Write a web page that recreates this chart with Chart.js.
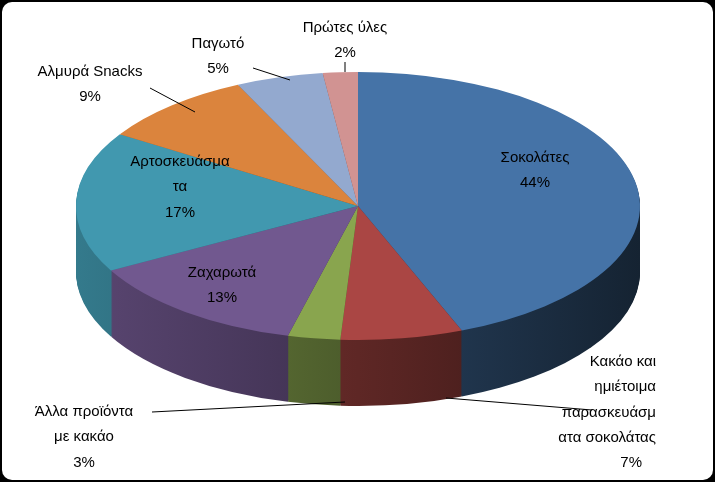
<!DOCTYPE html>
<html><head><meta charset="utf-8">
<script src="https://cdn.jsdelivr.net/npm/chart.js@4.4.0/dist/chart.umd.min.js"></script>
<style>
html,body{margin:0;padding:0;background:#000;}
#box{position:absolute;left:2px;top:2px;width:711px;height:478px;background:#fff;border-radius:10px;overflow:hidden;}
canvas{position:absolute;left:-2px;top:-2px;}
</style></head><body>
<div id="box"><canvas id="c" width="715" height="482"></canvas></div>
<script>
// Δεδομένα
const categories = ['Σοκολάτες', 'Κακάο και ημιέτοιμα παρασκευάσματα σοκολάτας', 'Άλλα προϊόντα με κακάο', 'Ζαχαρωτά', 'Αρτοσκευάσματα', 'Αλμυρά Snacks', 'Παγωτό', 'Πρώτες ύλες'];
const values = [44, 7, 3, 13, 17, 9, 5, 2];
const colors = ['#4573a7', '#aa4644', '#89a54e', '#71588f', '#4198af', '#db843d', '#93a9cf', '#d19392'];

// Ετικέτες όπως εμφανίζονται (γραμμές κειμένου), θέση, στοίχιση, γραμμή οδηγός
const labelLines = [
  ['Σοκολάτες', '44%'],
  ['Κακάο και', 'ημιέτοιμα', 'παρασκευάσμ', 'ατα σοκολάτας', '7%'],
  ['Άλλα προϊόντα', 'με κακάο', '3%'],
  ['Ζαχαρωτά', '13%'],
  ['Αρτοσκευάσμα', 'τα', '17%'],
  ['Αλμυρά Snacks', '9%'],
  ['Παγωτό', '5%'],
  ['Πρώτες ύλες', '2%']
];
const labelPos = [[535,158,'center'],[656,362,'right'],[84,412,'center'],[222,273,'center'],[180,162,'center'],[90,72,'center'],[218,44,'center'],[345,28,'center']];
const leaders = [null,[[446,398],[592,410]],[[152,412],[345,402]],null,null,[[150,88],[195,112]],[[253,68],[290,80]],[[345,62],[345,72]]];

// Geometria elleipsis στην οθόνη
const CX = 358, CY = 206, RX = 282, RY = 134, DEPTH = 66;

function shade(hex, f) {
  const n = parseInt(hex.slice(1), 16);
  const r = Math.round(((n >> 16) & 255) * f), g = Math.round(((n >> 8) & 255) * f), b = Math.round((n & 255) * f);
  return `rgb(${r},${g},${b})`;
}

function applyTransform(ctx, arc, dy) {
  const sx = RX / arc.outerRadius, sy = RY / arc.outerRadius;
  ctx.translate(CX, CY + dy);
  ctx.scale(sx, sy);
  ctx.translate(-arc.x, -arc.y);
}

const pie3d = {
  id: 'pie3d',
  beforeDatasetsDraw(chart) {
    const ctx = chart.ctx;
    const arcs = chart.getDatasetMeta(0).data;
    const a0 = arcs[0];
    for (let d = DEPTH; d > 0; d -= 1) {
      ctx.save();
      applyTransform(ctx, a0, d);
      arcs.forEach((a, i) => {
        const g = ctx.createLinearGradient(a.x - a.outerRadius, 0, a.x + a.outerRadius, 0);
        g.addColorStop(0, shade(colors[i], 0.8));
        g.addColorStop(0.5, shade(colors[i], 0.55));
        g.addColorStop(1, shade(colors[i], 0.3));
        ctx.fillStyle = g;
        ctx.beginPath();
        ctx.moveTo(a.x, a.y);
        ctx.arc(a.x, a.y, a.outerRadius, a.startAngle, a.endAngle);
        ctx.closePath();
        ctx.fill();
      });
      ctx.restore();
    }
    ctx.save();
    applyTransform(ctx, a0, 0);
  },
  afterDatasetsDraw(chart) {
    chart.ctx.restore();
  },
  afterDraw(chart) {
    const ctx = chart.ctx;
    ctx.save();
    ctx.strokeStyle = '#000';
    ctx.lineWidth = 1;
    leaders.forEach(l => {
      if (!l) return;
      ctx.beginPath();
      ctx.moveTo(l[0][0], l[0][1]);
      ctx.lineTo(l[1][0], l[1][1]);
      ctx.stroke();
    });
    ctx.fillStyle = '#000';
    ctx.font = '15px "Liberation Sans", Arial, sans-serif';
    ctx.textBaseline = 'middle';
    labelLines.forEach((lines, i) => {
      const [x, y, align] = labelPos[i];
      ctx.textAlign = align;
      lines.forEach((t, k) => {
        // η τελευταία γραμμή (ποσοστό) κεντραρισμένη κάτω από την ετικέτα
        if (align === 'right' && k === lines.length - 1) {
          ctx.fillText(t, x - 14, y + k * 25.3);
        } else {
          ctx.fillText(t, x, y + k * 25.3);
        }
      });
    });
    ctx.restore();
  }
};

new Chart(document.getElementById('c'), {
  type: 'pie',
  data: { labels: categories, datasets: [{ data: values, backgroundColor: colors, borderWidth: 0 }] },
  options: {
    responsive: false,
    devicePixelRatio: 1,
    animation: false,
    plugins: { legend: { display: false }, tooltip: { enabled: false } }
  },
  plugins: [pie3d]
});
</script>
</body></html>
